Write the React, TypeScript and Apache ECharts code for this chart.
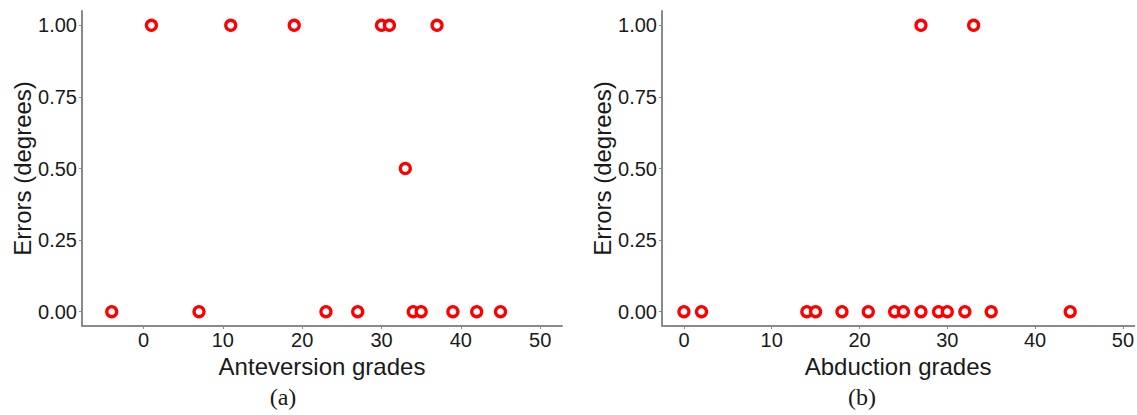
import React, { useEffect, useRef } from "react";
import * as echarts from "echarts";

const anteversionGrades = [-4, 1, 7, 11, 19, 23, 27, 30, 31, 33, 34, 35, 37, 39, 42, 45];
const anteversionErrors = [0, 1, 0, 1, 1, 0, 0, 1, 1, 0.5, 0, 0, 1, 0, 0, 0];
const abductionGrades = [0, 2, 14, 15, 18, 21, 24, 25, 27, 27, 29, 30, 32, 33, 35, 44];
const abductionErrors = [0, 0, 0, 0, 0, 0, 0, 0, 0, 1, 0, 0, 0, 1, 0, 0];
const xTicks = [0, 10, 20, 30, 40, 50];
const yTicks = [0, 0.25, 0.5, 0.75, 1];
const xNames = ["Anteversion grades", "Abduction grades"];
const yName = "Errors (degrees)";
const captions = ["(a)", "(b)"];

const W = 1137;
const H = 415;

export default function App() {
  const ref = useRef<HTMLDivElement>(null);
  useEffect(() => {
    document.body.style.margin = "0";
    const chart = echarts.init(ref.current!, null, { renderer: "svg" });
    const font = "Liberation Sans, Arial, sans-serif";
    const axisLine = { show: true, onZero: false, lineStyle: { color: "#8a8a8a", width: 2 } };
    const mkX = (idx: number, min: number, max: number) => ({
      type: "value",
      gridIndex: idx,
      min,
      max,
      name: xNames[idx],
      nameLocation: "middle",
      nameGap: 24,
      nameTextStyle: { fontFamily: font, fontSize: 24, color: "#1a1a1a" },
      axisLine,
      axisTick: { show: true, length: 3, customValues: xTicks, lineStyle: { color: "#8a8a8a", width: 1 } },
      axisLabel: { customValues: xTicks, fontFamily: font, fontSize: 20, color: "#1a1a1a", margin: 4 },
      splitLine: { show: false },
    });
    const mkY = (idx: number) => ({
      type: "value",
      gridIndex: idx,
      min: -0.05,
      max: 1.05,
      name: yName,
      nameLocation: "middle",
      nameGap: 47,
      nameTextStyle: { fontFamily: font, fontSize: 24, color: "#1a1a1a" },
      axisLine,
      axisTick: { show: true, length: 3, customValues: yTicks, lineStyle: { color: "#8a8a8a", width: 1 } },
      axisLabel: {
        customValues: yTicks,
        fontFamily: font,
        fontSize: 20,
        color: "#1a1a1a",
        margin: 5,
        formatter: (v: number) => v.toFixed(2),
      },
      splitLine: { show: false },
    });
    const marker = {
      type: "scatter",
      symbol: "circle",
      symbolSize: 10,
      itemStyle: { color: "#ffffff", borderColor: "#ff0000", borderWidth: 3.3, opacity: 1 },
    };
    chart.setOption({
      animation: false,
      backgroundColor: "#ffffff",
      grid: [
        { left: 82, top: 11, width: 480, height: 315 },
        { left: 662, top: 11, width: 475, height: 315 },
      ],
      xAxis: [mkX(0, -7.75, 52.75), mkX(1, -2.5, 51.3)],
      yAxis: [mkY(0), mkY(1)],
      series: [
        {
          ...marker,
          xAxisIndex: 0,
          yAxisIndex: 0,
          data: anteversionGrades.map((g, i) => [g, anteversionErrors[i]]),
        },
        {
          ...marker,
          xAxisIndex: 1,
          yAxisIndex: 1,
          data: abductionGrades.map((g, i) => [g, abductionErrors[i]]),
        },
      ],
      graphic: [
        {
          type: "text",
          x: 283,
          y: 397,
          style: {
            text: captions[0],
            font: "24px 'Liberation Serif', 'Times New Roman', serif",
            fill: "#1a1a1a",
            textAlign: "center",
            textVerticalAlign: "middle",
          },
        },
        {
          type: "text",
          x: 862,
          y: 397,
          style: {
            text: captions[1],
            font: "24px 'Liberation Serif', 'Times New Roman', serif",
            fill: "#1a1a1a",
            textAlign: "center",
            textVerticalAlign: "middle",
          },
        },
      ],
    });
    return () => chart.dispose();
  }, []);
  return <div ref={ref} style={{ width: W, height: H }} />;
}
